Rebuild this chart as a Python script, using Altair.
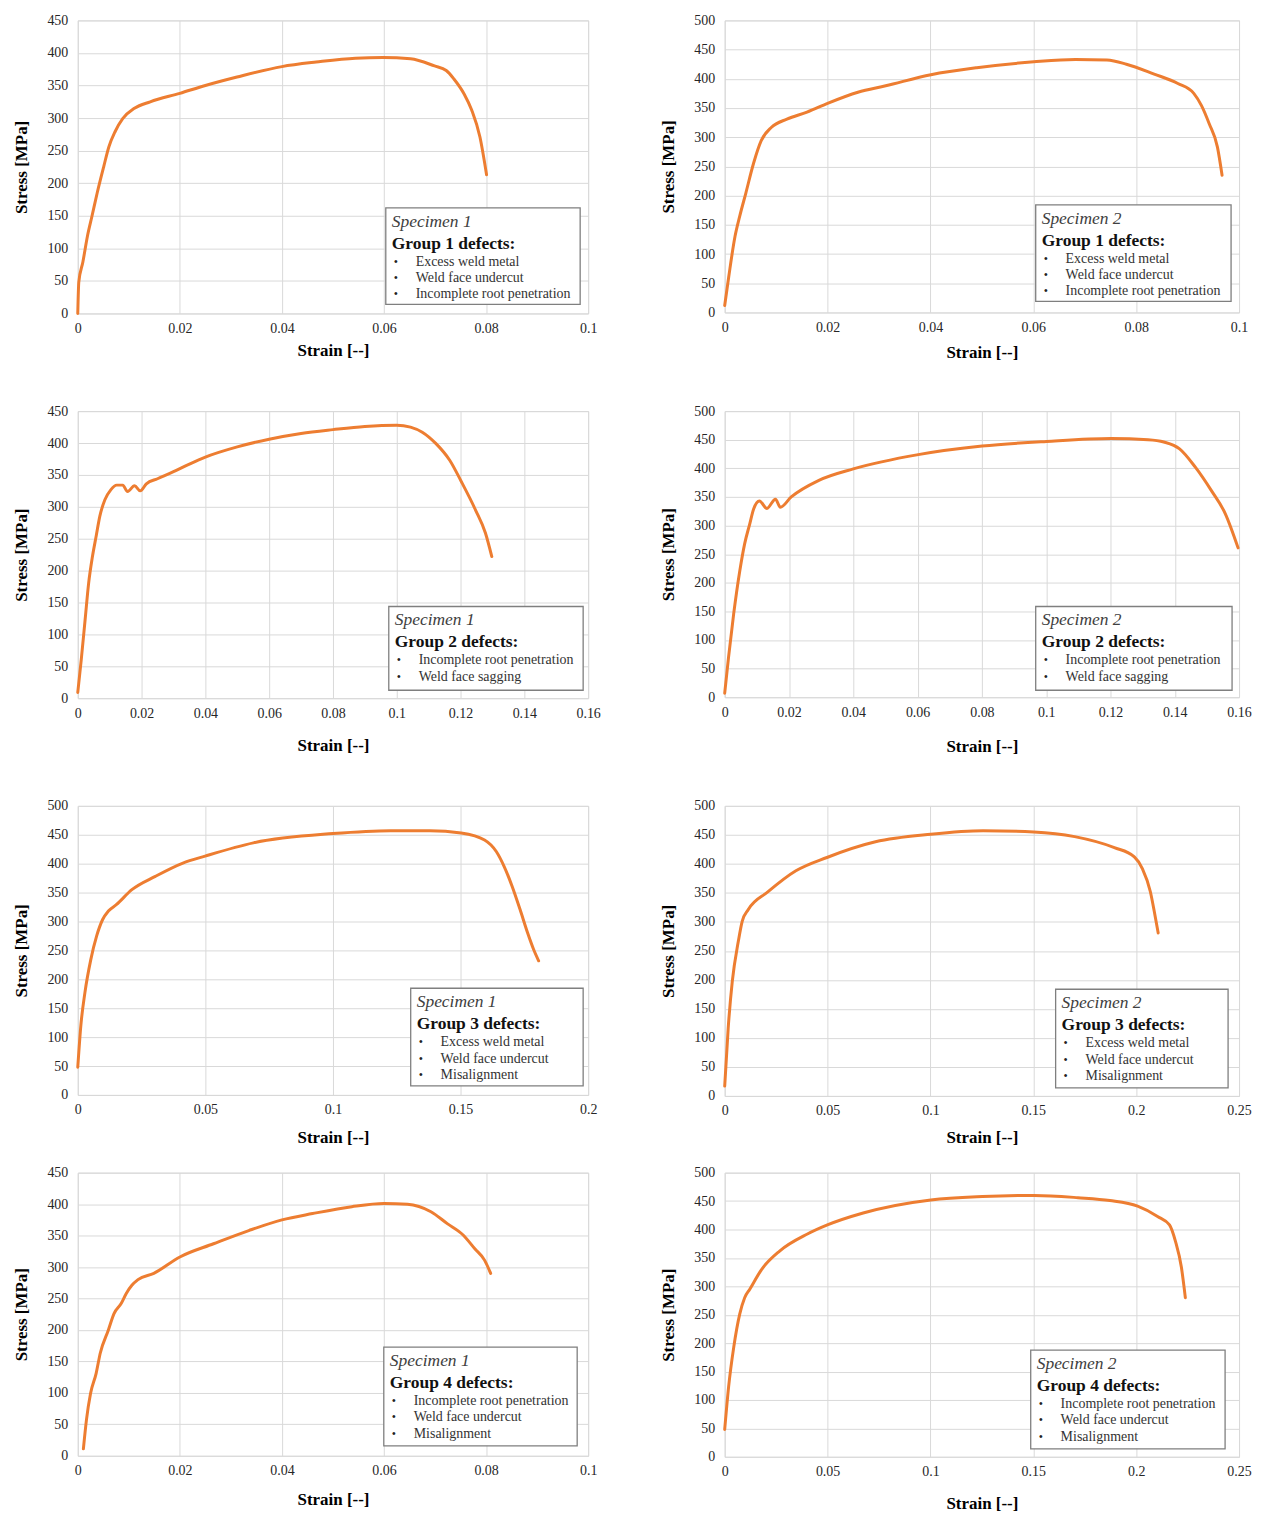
import altair as alt
import pandas as pd

FONT = "Liberation Serif"
ORANGE = "#ED7D31"

# ---------------- data ----------------
g1s1_strain = [0, 0.0002, 0.001, 0.0019, 0.0028, 0.0038, 0.0051, 0.0061, 0.0073, 0.0088, 0.0111, 0.0142,
               0.02, 0.025, 0.0312, 0.04, 0.0467, 0.0544, 0.0598, 0.0652, 0.0699, 0.0722, 0.0737, 0.0757,
               0.0772, 0.0788, 0.0801]
g1s1_stress = [0, 48, 79, 119, 150, 185, 226, 256, 279, 299, 315, 325, 338, 350, 363, 379, 386, 392, 393,
               391, 380, 373, 360, 337, 312, 271, 213]

g1s2_strain = [0, 0.0008, 0.002, 0.0029, 0.0041, 0.0056, 0.0071, 0.0091, 0.0121, 0.016, 0.02, 0.0259,
               0.0313, 0.0401, 0.049, 0.0601, 0.0682, 0.0743, 0.0781, 0.0835, 0.0881, 0.0912, 0.0927,
               0.0942, 0.0958, 0.0967]
g1s2_stress = [12, 62, 130, 164, 204, 255, 294, 317, 331, 343, 358, 377, 388, 407, 419, 429, 433, 432, 425,
               408, 392, 375, 354, 323, 283, 235]

g2s1_strain = [0, 0.0011, 0.0023, 0.0034, 0.0046, 0.0058, 0.0069, 0.0085, 0.0104, 0.0122, 0.0141, 0.0156,
               0.0178, 0.0196, 0.0215, 0.025, 0.03, 0.035, 0.04, 0.05, 0.06, 0.07, 0.08, 0.09, 0.1,
               0.1043, 0.108, 0.1123, 0.1166, 0.1203, 0.1247, 0.1278, 0.1298]
g2s1_stress = [9, 61, 123, 180, 222, 255, 285, 311, 327, 334, 334, 324, 333, 325, 336, 344, 355, 367, 378,
               394, 406, 415, 421, 426, 428, 425, 417, 399, 373, 339, 295, 259, 222]

g2s2_strain = [0, 0.0012, 0.0028, 0.0047, 0.0062, 0.0078, 0.009, 0.0108, 0.0131, 0.0158, 0.0173, 0.0207,
               0.0293, 0.04, 0.0602, 0.0801, 0.1001, 0.1202, 0.1317, 0.1366, 0.1415, 0.1464, 0.1514,
               0.1557, 0.1597]
g2s2_stress = [7, 70, 146, 221, 268, 303, 329, 343, 330, 346, 332, 350, 379, 399, 424, 439, 447, 452, 450,
               446, 434, 402, 361, 321, 261]

g3s1_strain = [0, 0.0012, 0.0028, 0.0051, 0.0074, 0.0097, 0.012, 0.0151, 0.0212, 0.0304, 0.0412, 0.0499,
               0.0688, 0.1, 0.1226, 0.138, 0.1502, 0.1594, 0.164, 0.1671, 0.1702, 0.1733, 0.1763, 0.1786,
               0.1806]
g3s1_stress = [48, 120, 177, 234, 275, 303, 318, 329, 355, 378, 401, 413, 436, 452, 457, 457, 453, 441, 421,
               395, 361, 321, 280, 252, 232]

g3s2_strain = [0, 0.0017, 0.0037, 0.0066, 0.0085, 0.0114, 0.0211, 0.0346, 0.0497, 0.0733, 0.1002, 0.1256,
               0.1502, 0.1701, 0.1894, 0.1991, 0.203, 0.2069, 0.2088, 0.2107]
g3s2_stress = [17, 117, 198, 266, 301, 321, 352, 388, 411, 438, 451, 457, 455, 447, 428, 412, 392, 352, 318,
               281]

g4s1_strain = [0.0011, 0.0017, 0.0025, 0.0036, 0.0044, 0.006, 0.0071, 0.0085, 0.0095, 0.0106, 0.0118,
               0.0149, 0.02, 0.0266, 0.0335, 0.04, 0.046, 0.0537, 0.06, 0.0646, 0.0692, 0.0724, 0.0755,
               0.0778, 0.0797, 0.0809]
g4s1_stress = [11, 57, 99, 131, 163, 200, 226, 242, 258, 271, 280, 290, 316, 337, 358, 375, 385, 396, 401,
               400, 388, 369, 351, 329, 311, 290]

g4s2_strain = [0, 0.0019, 0.0044, 0.0073, 0.0097, 0.0122, 0.018, 0.0267, 0.0402, 0.0499, 0.0673, 0.1002,
               0.1253, 0.1504, 0.1717, 0.1872, 0.2007, 0.2104, 0.2162, 0.2191, 0.222, 0.2239]
g4s2_stress = [48, 123, 193, 251, 280, 295, 330, 362, 392, 408, 429, 452, 458, 460, 456, 451, 441, 423, 408,
               379, 333, 280]

# tick values
X_TICKS_010 = [0, 0.02, 0.04, 0.06, 0.08, 0.1]
X_TICKS_016 = [0, 0.02, 0.04, 0.06, 0.08, 0.1, 0.12, 0.14, 0.16]
X_TICKS_020 = [0, 0.05, 0.1, 0.15, 0.2]
X_TICKS_025 = [0, 0.05, 0.1, 0.15, 0.2, 0.25]
Y_TICKS_450 = [0, 50, 100, 150, 200, 250, 300, 350, 400, 450]
Y_TICKS_500 = [0, 50, 100, 150, 200, 250, 300, 350, 400, 450, 500]

# legend texts
ITEMS_G1 = ["Excess weld metal", "Weld face undercut", "Incomplete root penetration"]
ITEMS_G2 = ["Incomplete root penetration", "Weld face sagging"]
ITEMS_G3 = ["Excess weld metal", "Weld face undercut", "Misalignment"]
ITEMS_G4 = ["Incomplete root penetration", "Weld face undercut", "Misalignment"]

# ---------------- layout ----------------
LW, RW = 512, 516                  # plot widths, left / right column
TOP = 9                            # room above each plot (labels)
ROW_SPAN = [381, 385, 357, None]   # plot height + room below, per row
ROW_H = [(294, 293), (288, 287), (290, 291), (284, 285)]

panels = [
    dict(strain=g1s1_strain, stress=g1s1_stress, xmax=0.1, xt=X_TICKS_010, ymax=450, yt=Y_TICKS_450,
         spec="Specimen 1", group="Group 1 defects:", items=ITEMS_G1, box=(309, 188, 195, 97), xtp=7),
    dict(strain=g1s2_strain, stress=g1s2_stress, xmax=0.1, xt=X_TICKS_010, ymax=500, yt=Y_TICKS_500,
         spec="Specimen 2", group="Group 1 defects:", items=ITEMS_G1, box=(312, 185, 196, 97), xtp=10),
    dict(strain=g2s1_strain, stress=g2s1_stress, xmax=0.16, xt=X_TICKS_016, ymax=450, yt=Y_TICKS_450,
         spec="Specimen 1", group="Group 2 defects:", items=ITEMS_G2, box=(312, 196, 195, 84), xtp=17),
    dict(strain=g2s2_strain, stress=g2s2_stress, xmax=0.16, xt=X_TICKS_016, ymax=500, yt=Y_TICKS_500,
         spec="Specimen 2", group="Group 2 defects:", items=ITEMS_G2, box=(312, 196, 197, 84), xtp=19),
    dict(strain=g3s1_strain, stress=g3s1_stress, xmax=0.2, xt=X_TICKS_020, ymax=500, yt=Y_TICKS_500,
         spec="Specimen 1", group="Group 3 defects:", items=ITEMS_G3, box=(334, 183, 173, 98), xtp=13),
    dict(strain=g3s2_strain, stress=g3s2_stress, xmax=0.25, xt=X_TICKS_025, ymax=500, yt=Y_TICKS_500,
         spec="Specimen 2", group="Group 3 defects:", items=ITEMS_G3, box=(332, 184, 173, 99), xtp=12),
    dict(strain=g4s1_strain, stress=g4s1_stress, xmax=0.1, xt=X_TICKS_010, ymax=450, yt=Y_TICKS_450,
         spec="Specimen 1", group="Group 4 defects:", items=ITEMS_G4, box=(307, 175, 194, 99), xtp=14),
    dict(strain=g4s2_strain, stress=g4s2_stress, xmax=0.25, xt=X_TICKS_025, ymax=500, yt=Y_TICKS_500,
         spec="Specimen 2", group="Group 4 defects:", items=ITEMS_G4, box=(307, 178, 195, 99), xtp=17),
]

one = pd.DataFrame({"k": [0]})


def make_panel(i, p):
    row, col = divmod(i, 2)
    W = LW if col == 0 else RW
    H = ROW_H[row][col]
    L = 69 if col == 0 else 115
    R = 20 if col == 0 else 14
    T = TOP
    B = (ROW_SPAN[row] - H) if ROW_SPAN[row] else 10

    df = pd.DataFrame({"strain": p["strain"], "stress": p["stress"]})
    line = alt.Chart(df).mark_line(color=ORANGE, strokeWidth=3, interpolate="monotone",
                                   strokeCap="round", strokeJoin="round").encode(
        x=alt.X("strain:Q", scale=alt.Scale(domain=[0, p["xmax"]], nice=False),
                axis=alt.Axis(values=p["xt"], format="~g", title="Strain [--]", titlePadding=p["xtp"])),
        y=alt.Y("stress:Q", scale=alt.Scale(domain=[0, p["ymax"]], nice=False),
                axis=alt.Axis(values=p["yt"], title="Stress [MPa]")),
    )

    # invisible frame that fixes the cell's extent in the grid
    frame = alt.Chart(one).mark_rect(opacity=0).encode(
        x=alt.value(-L), x2=alt.value(W + R), y=alt.value(-T), y2=alt.value(H + B))

    bx, by, bw, bh = p["box"]
    box = alt.Chart(one).mark_rect(fill="white", stroke="#7f7f7f", strokeWidth=1.3).encode(
        x=alt.value(bx), x2=alt.value(bx + bw), y=alt.value(by), y2=alt.value(by + bh))

    layers = [frame, box]
    layers.append(alt.Chart(pd.DataFrame({"t": [p["spec"]]})).mark_text(
        align="left", baseline="middle", font=FONT, fontSize=17.5, fontStyle="italic", color="#404040"
    ).encode(x=alt.value(bx + 6), y=alt.value(by + 14), text="t:N"))
    layers.append(alt.Chart(pd.DataFrame({"t": [p["group"]]})).mark_text(
        align="left", baseline="middle", font=FONT, fontSize=17.5, fontWeight="bold", color="#111111"
    ).encode(x=alt.value(bx + 6), y=alt.value(by + 36), text="t:N"))
    for j, item in enumerate(p["items"]):
        yy = by + 54 + j * 16.5
        layers.append(alt.Chart(pd.DataFrame({"t": ["•"]})).mark_text(
            align="left", baseline="middle", font=FONT, fontSize=12, color="#222222"
        ).encode(x=alt.value(bx + 8), y=alt.value(yy), text="t:N"))
        layers.append(alt.Chart(pd.DataFrame({"t": [item]})).mark_text(
            align="left", baseline="middle", font=FONT, fontSize=14, color="#333333"
        ).encode(x=alt.value(bx + 30), y=alt.value(yy), text="t:N"))
    layers.append(line)
    return alt.layer(*layers).properties(width=W, height=H)


charts = [make_panel(i, p) for i, p in enumerate(panels)]

chart = alt.concat(*charts, columns=2, spacing=0, align="each").properties(
    padding={"left": 0, "top": 0, "right": 0, "bottom": 0}
).configure_axis(
    labelFont=FONT, labelFontSize=14, labelColor="#262626", labelFlush=False, labelOverlap=False,
    titleFont=FONT, titleFontSize=17, titleFontWeight="bold", titleColor="#000000",
    grid=True, gridColor="#d9d9d9", gridWidth=1, domain=False, ticks=False, labelPadding=8,
).configure_axisY(
    titlePadding=16, labelPadding=10,
).configure_view(
    stroke="#d9d9d9", strokeWidth=1,
)

chart.save("out.html", embed_options={"renderer": "svg", "actions": False})
